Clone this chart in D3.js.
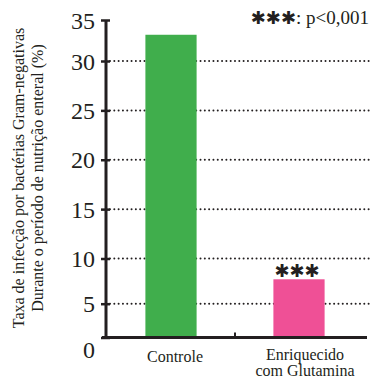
<!DOCTYPE html>
<html>
<head>
<meta charset="utf-8">
<script src="https://cdn.jsdelivr.net/npm/d3@7"></script>
<style>
  html, body { margin: 0; padding: 0; background: #fff; }
  svg { display: block; }
  .serif { font-family: "Liberation Serif", "Times New Roman", serif; }
  .dingbat { font-family: "DejaVu Sans", sans-serif; }
</style>
</head>
<body>
<svg id="chart" width="373" height="378"></svg>
<script>
// ---- data ----
const categories = ["Controle", "Enriquecido\ncom Glutamina"];
const values = [33.2, 7.7];
const barColors = ["#40ae4c", "#ef5096"];
const tickValues = [0, 5, 10, 15, 20, 25, 30, 35];
const gridValues = [5, 10, 15, 20, 25, 30];
const yTitleLines = ["Taxa de infecção por bactérias Gram-negativas", "Durante o período de nutrição enteral (%)"];
const sigMark = "✱✱✱";
const sigLegend = ": p<0,001";
const sigFlags = [false, true];

// ---- layout ----
const svg = d3.select("#chart");
const ink = "#231f20";
const axisX = 106, baseY = 337.5, rightX = 367;

// piecewise linear y-scale following the original figure's axis spacing
const y = d3.scaleLinear()
  .domain([0, 5, 10, 30, 35])
  .range([baseY, 303.7, 258.5, 61, 20]);

const x = d3.scaleBand()
  .domain(categories)
  .range([107, 363])
  .paddingInner(0.6)
  .paddingOuter(0.3);

// gridlines (dotted)
svg.append("g").selectAll("line").data(gridValues).join("line")
  .attr("x1", axisX + 4).attr("x2", 371)
  .attr("y1", d => y(d)).attr("y2", d => y(d))
  .attr("stroke", ink).attr("stroke-width", 2)
  .attr("stroke-linecap", "round")
  .attr("stroke-dasharray", "0.01,4.3");

// bars
svg.append("g").selectAll("rect").data(values).join("rect")
  .attr("x", (d, i) => x(categories[i]))
  .attr("width", x.bandwidth())
  .attr("y", d => y(d))
  .attr("height", d => baseY + 1.5 - y(d))
  .attr("fill", (d, i) => barColors[i]);

// baseline
svg.append("line")
  .attr("x1", axisX - 4).attr("x2", rightX)
  .attr("y1", baseY).attr("y2", baseY)
  .attr("stroke", ink).attr("stroke-width", 3);

// middle tick on the x axis
const midX = (x(categories[0]) + x.bandwidth() + x(categories[1])) / 2;
svg.append("line")
  .attr("x1", midX).attr("x2", midX)
  .attr("y1", baseY - 5).attr("y2", baseY)
  .attr("stroke", ink).attr("stroke-width", 2);

// y axis
const yAxis = d3.axisLeft(y).tickValues(tickValues).tickSize(0).tickFormat(d3.format("d"));
const gy = svg.append("g").attr("transform", `translate(${axisX},0)`).call(yAxis);
gy.attr("font-family", null).attr("font-size", null);
gy.select(".domain").remove();
gy.append("line").attr("x1", 0).attr("x2", 0)
  .attr("y1", y(35)).attr("y2", baseY + 1.5)
  .attr("stroke", ink).attr("stroke-width", 3);
gy.selectAll(".tick").append("line")
  .attr("x1", -5).attr("x2", 4)
  .attr("stroke", ink).attr("stroke-width", 2.5);
gy.selectAll(".tick text")
  .attr("class", "serif")
  .attr("x", -11)
  .attr("dy", d => d === 0 ? "0.85em" : "0.34em")
  .style("font-size", "24px")
  .attr("fill", ink);

// category labels
svg.append("g").selectAll("text").data(categories).join("text")
  .attr("class", "serif")
  .attr("x", (d, i) => x(d) + x.bandwidth() / 2 + (i === 0 ? 4 : 6))
  .attr("y", (d, i) => i === 0 ? 362 : 360)
  .attr("text-anchor", "middle")
  .style("font-size", "16px")
  .attr("fill", ink)
  .selectAll("tspan").data(d => d.split("\n")).join("tspan")
  .attr("x", function() { return this.parentNode.getAttribute("x"); })
  .attr("dy", (d, i) => i === 0 ? 0 : 16)
  .text(d => d);

// significance marks
svg.append("g").selectAll("text").data(values).join("text")
  .filter((d, i) => sigFlags[i])
  .attr("class", "dingbat")
  .attr("x", x(categories[1]) + x.bandwidth() / 2 - 2)
  .attr("y", d => y(d) - 2)
  .attr("text-anchor", "middle")
  .style("font-size", "18px")
  .attr("fill", ink)
  .text(sigMark);

// legend
const leg = svg.append("text")
  .attr("x", 369).attr("y", 24)
  .attr("text-anchor", "end")
  .attr("fill", ink);
leg.append("tspan")
  .attr("class", "dingbat")
  .style("font-size", "18px")
  .text(sigMark);
leg.append("tspan")
  .attr("class", "serif")
  .style("font-size", "19px")
  .text(sigLegend);

// y axis title
const yt = svg.append("text")
  .attr("class", "serif")
  .attr("transform", "translate(0,178) rotate(-90)")
  .attr("text-anchor", "middle")
  .style("font-size", "16px")
  .attr("fill", ink);
yt.selectAll("tspan").data(yTitleLines).join("tspan")
  .attr("x", 0)
  .attr("y", (d, i) => i === 0 ? 23.5 : 43)
  .text(d => d);
</script>
</body>
</html>
